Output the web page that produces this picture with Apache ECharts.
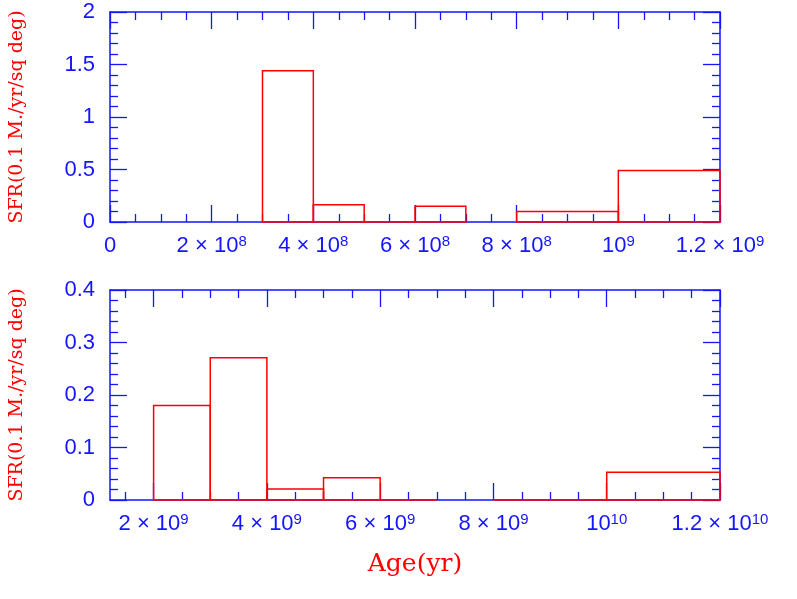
<!DOCTYPE html>
<html>
<head>
<meta charset="utf-8">
<script src="https://cdn.jsdelivr.net/npm/echarts@6/dist/echarts.min.js"></script>
<style>
  html, body { margin: 0; padding: 0; background: #fff; }
  #chart { width: 797px; height: 599px; }
</style>
</head>
<body>
<div id="chart"></div>
<script>
// bins (age in yr) and star formation rate, upper panel
var topBinStart = [3e8, 4e8, 5e8, 6e8, 8e8, 1e9]
var topBinEnd = [4e8, 5e8, 6e8, 7e8, 1e9, 1.2e9]
var topSfr = [1.44, 0.165, 0, 0.15, 0.1, 0.49]

// lower panel
var botBinStart = [2e9, 3e9, 4e9, 5e9, 6e9, 8e9, 1e10]
var botBinEnd = [3e9, 4e9, 5e9, 6e9, 7e9, 1e10, 1.2e10]
var botSfr = [0.18, 0.271, 0.021, 0.0425, 0, 0, 0.053]

// tick positions
var topXMajor = [0, 2e8, 4e8, 6e8, 8e8, 1e9, 1.2e9]
var topXMinor = [5e7, 1e8, 1.5e8, 2.5e8, 3e8, 3.5e8, 4.5e8, 5e8, 5.5e8, 6.5e8, 7e8, 7.5e8, 8.5e8, 9e8, 9.5e8, 1.05e9, 1.1e9, 1.15e9]
var topYMajor = [0, 0.5, 1, 1.5, 2]
var topYMinor = [0.1, 0.2, 0.3, 0.4, 0.6, 0.7, 0.8, 0.9, 1.1, 1.2, 1.3, 1.4, 1.6, 1.7, 1.8, 1.9]
var botXMajor = [2e9, 4e9, 6e9, 8e9, 1e10, 1.2e10]
var botXMinor = [1.5e9, 2.5e9, 3e9, 3.5e9, 4.5e9, 5e9, 5.5e9, 6.5e9, 7e9, 7.5e9, 8.5e9, 9e9, 9.5e9, 1.05e10, 1.1e10, 1.15e10]
var botYMajor = [0, 0.1, 0.2, 0.3, 0.4]
var botYMinor = [0.02, 0.04, 0.06, 0.08, 0.12, 0.14, 0.16, 0.18, 0.22, 0.24, 0.26, 0.28, 0.32, 0.34, 0.36, 0.38]

var blue = '#1515ff'
var red = '#ff0000'
var labelFont = 'Liberation Sans'

function sciLabel (v) {
  if (v === 0) return '{b|0}'
  var e = Math.floor(Math.log10(v) + 1e-9)
  var m = Math.round(v / Math.pow(10, e) * 1000) / 1000
  if (m === 1) return '{b|10}{s|' + e + '}'
  return '{b|' + m + ' × 10}{s|' + e + '}'
}

var labelRich = {
  b: { fontFamily: labelFont, fontSize: 22, color: blue, lineHeight: 24 },
  s: { fontFamily: labelFont, fontSize: 15, color: blue, lineHeight: 14, verticalAlign: 'top' }
}

function makeAxis (dim, grid, pos, min, max, ticks, len, showLine, labels) {
  var ax = {
    type: 'value',
    gridIndex: grid,
    position: pos,
    min: min,
    max: max,
    splitLine: { show: false },
    axisLine: { show: showLine, onZero: false, lineStyle: { color: blue, width: 1.5 } },
    axisTick: { show: true, inside: true, length: len, customValues: ticks, lineStyle: { color: blue, width: 1.3 } },
    axisLabel: { show: false }
  }
  if (labels) {
    ax.axisLabel = {
      show: true,
      customValues: ticks,
      margin: dim === 'x' ? 12 : 15,
      color: blue,
      fontFamily: labelFont,
      fontSize: 22,
      formatter: labels,
      rich: labelRich
    }
  }
  return ax
}

function histSeries (grid, starts, ends, vals) {
  var data = starts.map(function (s, i) { return [s, ends[i], vals[i]] })
  return {
    type: 'custom',
    xAxisIndex: grid * 4,
    yAxisIndex: grid * 4,
    data: data,
    clip: false,
    renderItem: function (params, api) {
      var p0 = api.coord([api.value(0), 0])
      var p1 = api.coord([api.value(1), api.value(2)])
      return {
        type: 'rect',
        shape: { x: p0[0], y: p1[1], width: p1[0] - p0[0], height: p0[1] - p1[1] },
        style: { fill: null, stroke: red, lineWidth: 1.5 }
      }
    }
  }
}

var yFmt = function (v) { return '{b|' + v + '}' }

var xAxes = [
  makeAxis('x', 0, 'bottom', 0, 1.2e9, topXMajor, 17, true, sciLabel),
  makeAxis('x', 0, 'bottom', 0, 1.2e9, topXMinor, 8, false),
  makeAxis('x', 0, 'top', 0, 1.2e9, topXMajor, 17, true),
  makeAxis('x', 0, 'top', 0, 1.2e9, topXMinor, 8, false),
  makeAxis('x', 1, 'bottom', 1.23e9, 1.2e10, botXMajor, 17, true, sciLabel),
  makeAxis('x', 1, 'bottom', 1.23e9, 1.2e10, botXMinor, 8, false),
  makeAxis('x', 1, 'top', 1.23e9, 1.2e10, botXMajor, 17, true),
  makeAxis('x', 1, 'top', 1.23e9, 1.2e10, botXMinor, 8, false)
]
xAxes[4].name = 'Age(yr)'
xAxes[4].nameLocation = 'middle'
xAxes[4].nameGap = 52
xAxes[4].nameTextStyle = { color: red, fontFamily: 'DejaVu Serif', fontSize: 25 }

var yAxes = [
  makeAxis('y', 0, 'left', 0, 2, topYMajor, 17, true, yFmt),
  makeAxis('y', 0, 'left', 0, 2, topYMinor, 8, false),
  makeAxis('y', 0, 'right', 0, 2, topYMajor, 17, true),
  makeAxis('y', 0, 'right', 0, 2, topYMinor, 8, false),
  makeAxis('y', 1, 'left', 0, 0.4, botYMajor, 17, true, yFmt),
  makeAxis('y', 1, 'left', 0, 0.4, botYMinor, 8, false),
  makeAxis('y', 1, 'right', 0, 0.4, botYMajor, 17, true),
  makeAxis('y', 1, 'right', 0, 0.4, botYMinor, 8, false)
];
[0, 4].forEach(function (i) {
  yAxes[i].name = 'SFR(0.1 M./yr/sq deg)'
  yAxes[i].nameLocation = 'middle'
  yAxes[i].nameGap = 83
  yAxes[i].nameTextStyle = { color: red, fontFamily: 'DejaVu Serif', fontSize: 19 }
})

var chart = echarts.init(document.getElementById('chart'))
chart.setOption({
  animation: false,
  backgroundColor: '#ffffff',
  grid: [
    { left: 110, top: 12, width: 610, height: 210 },
    { left: 110, top: 290, width: 610, height: 210 }
  ],
  xAxis: xAxes,
  yAxis: yAxes,
  series: [
    histSeries(0, topBinStart, topBinEnd, topSfr),
    histSeries(1, botBinStart, botBinEnd, botSfr)
  ]
})
</script>
</body>
</html>
